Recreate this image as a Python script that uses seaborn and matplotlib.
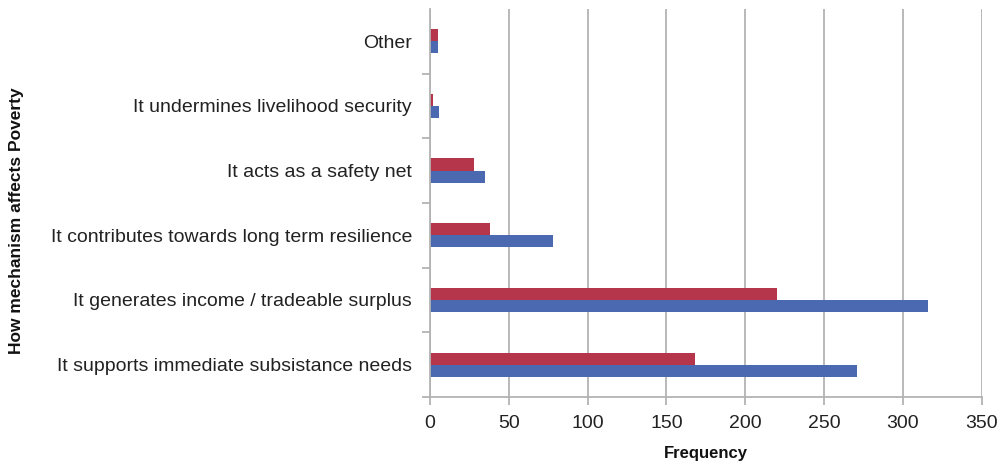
import matplotlib
matplotlib.use("Agg")
import matplotlib.pyplot as plt
import seaborn as sns
import pandas as pd
import numpy as np

# categories, top to bottom
mechanisms = [
    "Other",
    "It undermines livelihood security",
    "It acts as a safety net",
    "It contributes towards long term resilience",
    "It generates income / tradeable surplus",
    "It supports immediate subsistance needs",
]
series_names = ["Series 1", "Series 2"]
red_values = [5, 2, 28, 38, 220, 168]
blue_values = [5, 6, 35, 78, 316, 271]
x_ticks = [0, 50, 100, 150, 200, 250, 300, 350]

df = pd.DataFrame({
    "mechanism": mechanisms * 2,
    "series": [series_names[0]] * len(mechanisms) + [series_names[1]] * len(mechanisms),
    "freq": red_values + blue_values,
})

sns.set_style("white")
plt.rcParams["font.family"] = ["Liberation Sans", "DejaVu Sans"]

fig = plt.figure(figsize=(10.07, 4.66), dpi=100)
ax = fig.add_axes([0.427, 0.148, 0.548, 0.833])

sns.barplot(data=df, y="mechanism", x="freq", hue="series", order=mechanisms,
            hue_order=series_names, palette=["#B5364A", "#4A69B1"],
            orient="h", width=0.375, gap=0, saturation=1, legend=False,
            linewidth=0, ax=ax)

ax.set_xlim(0, 350)
ax.set_xticks(x_ticks)
ax.set_ylim(len(mechanisms) - 0.5, -0.5)
ax.grid(axis="x", color="#B3B3B3", linewidth=1.3)
ax.set_axisbelow(True)

for s in ["top", "right"]:
    ax.spines[s].set_visible(False)
for s in ["left", "bottom"]:
    ax.spines[s].set_color("#B3B3B3")
    ax.spines[s].set_linewidth(1.3)

# y ticks: labels at centres, tick marks at the category boundaries
ax.set_yticks(np.arange(len(mechanisms)))
ax.set_yticks(np.arange(len(mechanisms)) + 0.5, minor=True)
ax.tick_params(axis="y", which="major", length=0, pad=13, labelsize=14, labelcolor="#222222")
ax.tick_params(axis="y", which="minor", length=6, width=1.3, color="#B3B3B3", left=True)
ax.tick_params(axis="x", length=6, width=1.3, color="#B3B3B3", pad=7, labelsize=14,
               labelcolor="#222222", bottom=True)

ax.set_xlabel("Frequency", fontsize=12, fontweight="bold", color="#111111", labelpad=10)
ax.set_ylabel("How mechanism affects Poverty", fontsize=12.5, fontweight="bold", color="#111111")
ax.yaxis.set_label_coords(-0.735, 0.454)

fig.savefig("out.png", dpi=100)
